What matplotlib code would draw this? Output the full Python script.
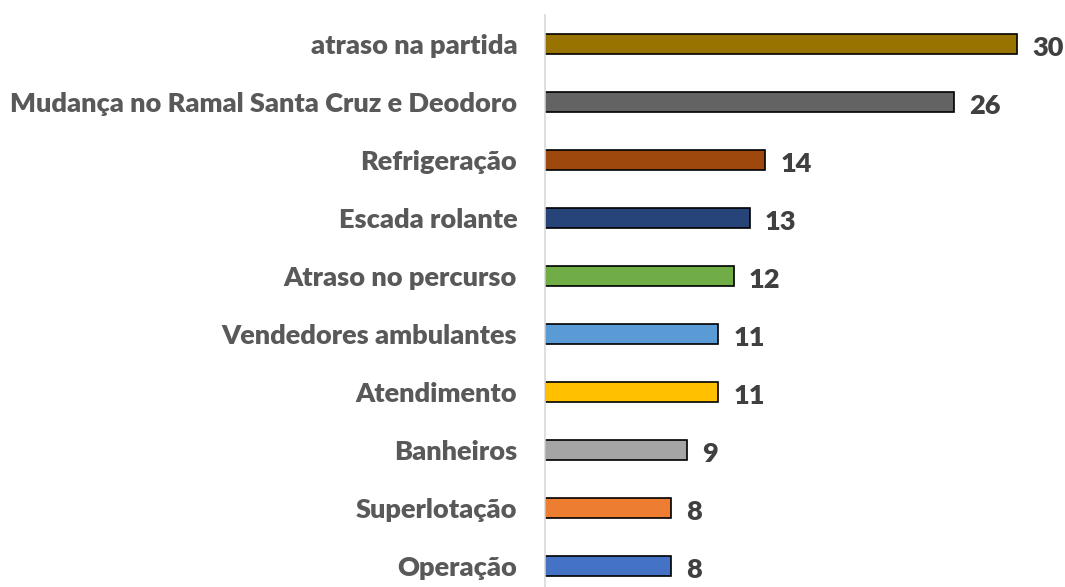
import matplotlib.pyplot as plt

# data (top to bottom as in the chart)
categories = [
    "atraso na partida",
    "Mudança no Ramal Santa Cruz e Deodoro",
    "Refrigeração",
    "Escada rolante",
    "Atraso no percurso",
    "Vendedores ambulantes",
    "Atendimento",
    "Banheiros",
    "Superlotação",
    "Operação",
]
values = [30, 26, 14, 13, 12, 11, 11, 9, 8, 8]
colors = ["#997300", "#636363", "#9E480E", "#264478", "#70AD47",
          "#5B9BD5", "#FFC000", "#A5A5A5", "#ED7D31", "#4472C4"]

fig = plt.figure(figsize=(10.65, 5.87), dpi=100)
ax = fig.add_axes([545 / 1065, -8 / 587, 505 / 1065, 580 / 587])

y = list(range(len(categories)))
ax.barh(y, values, height=0.36, color=colors, edgecolor="black", linewidth=1.2)

ax.set_xlim(0, 32.1)
ax.set_ylim(len(categories) - 0.5, -0.5)

ax.set_yticks(y)
ax.set_yticklabels(categories, fontsize=19.5, fontweight="heavy", color="#595959",
                   family="Lato")
ax.tick_params(axis="y", length=0, pad=20)
ax.set_xticks([])

for s in ["top", "right", "bottom"]:
    ax.spines[s].set_visible(False)
ax.spines["left"].set_color("#D9D9D9")
ax.spines["left"].set_linewidth(1.2)

for yi, v in zip(y, values):
    ax.annotate(str(v), (v, yi), xytext=(11, -3), textcoords="offset points",
                ha="left", va="center", fontsize=19.5, fontweight="heavy",
                color="#404040", family="Lato", annotation_clip=False)

fig.savefig("out.png", dpi=100)
